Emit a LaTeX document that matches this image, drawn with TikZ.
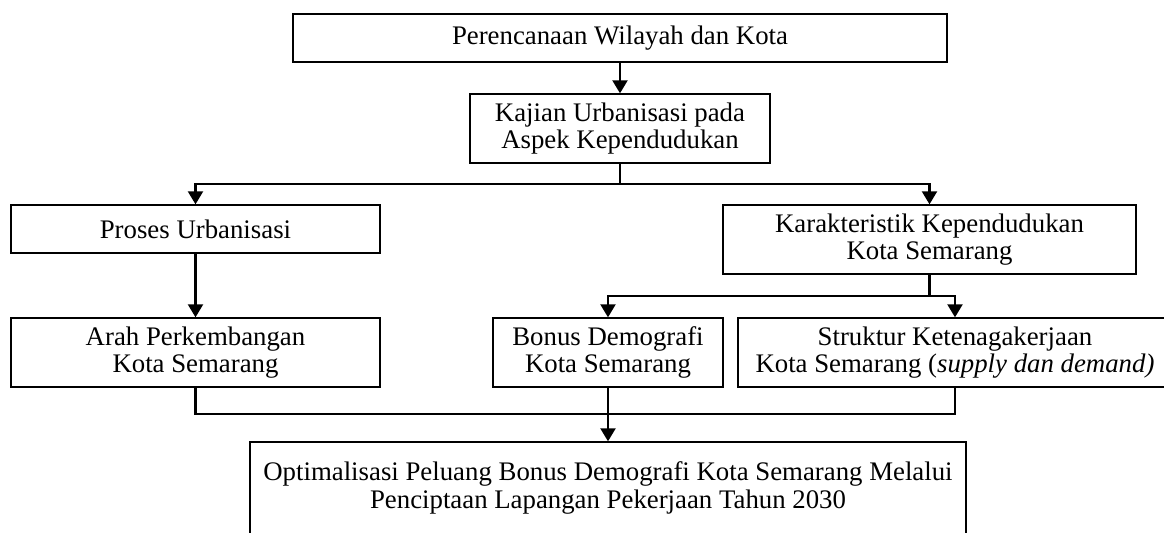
\documentclass[tikz,border=0pt]{standalone}
\usepackage{fontspec}
\setmainfont{Liberation Serif}
\usetikzlibrary{arrows.meta}
\newcommand{\boxfont}{\fontsize{13.4}{13.85}\selectfont}

\begin{document}
\begin{tikzpicture}[x=0.5pt, y=-0.5pt, every node/.style={rectangle,draw,line width=0.7pt,align=center,inner sep=0pt,font=\boxfont}, >={Triangle[length=6.5pt,width=7.5pt]}]

\tikzstyle{one line}=[minimum height=24pt]
\tikzstyle{two lines}=[minimum height=34.5pt]
\tikzstyle{link}=[line width=1.15pt]

\useasboundingbox (0,0) rectangle (1164,532);

\node[one line, minimum width=327pt] (plan) at (620,38) {Perencanaan Wilayah dan Kota};
\node[two lines, minimum width=150pt] (kajian) at (620,128.5) {Kajian Urbanisasi pada\\Aspek Kependudukan};

\node[one line, minimum width=184.5pt] (proses) at (195.5,229) {Proses Urbanisasi};
\node[two lines, minimum width=206.5pt] (karakter) at (929.5,239.5) {Karakteristik Kependudukan\\Kota Semarang};

\node[two lines, minimum width=184.5pt] (arah) at (195.5,352.5) {Arah Perkembangan\\Kota Semarang};
\node[two lines, minimum width=115pt] (bonus) at (608,352.5) {Bonus Demografi\\Kota Semarang};
\node[two lines, minimum width=217pt] (struktur) at (955,352.5) {Struktur Ketenagakerjaan\\Kota Semarang (\textit{supply dan demand)}};

\node[minimum height=46pt, minimum width=358pt] (optimal) at (608,488) {Optimalisasi Peluang Bonus Demografi Kota Semarang Melalui\\Penciptaan Lapangan Pekerjaan Tahun 2030};

\draw[link,->] (plan) -- (kajian);
\draw[link] (kajian.south) -- (kajian.south |- 0,184) coordinate (split1);
\draw[link,->] (split1) -| (proses.north);
\draw[link,->] (split1) -| (karakter.north);

\draw[link,->] (proses) -- (arah);

\draw[link] (karakter.south) -- (karakter.south |- 0,296) coordinate (split2);
\draw[link,->] (split2) -| (bonus.north);
\draw[link,->] (split2) -| (struktur.north);

\draw[link] (arah.south) |- (0,414 -| struktur.south) -- (struktur.south);
\draw[link,->] (bonus.south) -- (bonus.south |- optimal.north);

\end{tikzpicture}
\end{document}
